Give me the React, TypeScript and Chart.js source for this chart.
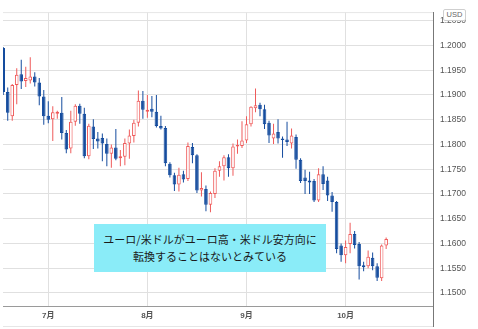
import React, { useEffect, useRef } from "react";
import { Chart, registerables } from "chart.js";
Chart.register(...registerables);

// Trading days (2021, MM-DD)
const dates = [
  "06-17","06-18","06-21","06-22","06-23","06-24","06-25","06-28","06-29","06-30",
  "07-01","07-02","07-05","07-06","07-07","07-08","07-09","07-12","07-13","07-14",
  "07-15","07-16","07-19","07-20","07-21","07-22","07-23","07-26","07-27","07-28",
  "07-29","07-30","08-02","08-03","08-04","08-05","08-06","08-09","08-10","08-11",
  "08-12","08-13","08-16","08-17","08-18","08-19","08-20","08-23","08-24","08-25",
  "08-26","08-27","08-30","08-31","09-01","09-02","09-03","09-06","09-07","09-08",
  "09-09","09-10","09-13","09-14","09-15","09-16","09-17","09-20","09-21","09-22",
  "09-23","09-24","09-27","09-28","09-29","09-30","10-01","10-04","10-05","10-06",
  "10-07","10-08","10-11","10-12","10-13","10-14",
];
const opens = [
  1.1995,1.1906,1.1857,1.1920,1.1942,1.1928,1.1929,1.1937,1.1925,1.1897,
  1.1858,1.1851,1.1862,1.1864,1.1823,1.1792,1.1846,1.1878,1.1862,1.1776,
  1.1836,1.1812,1.1813,1.1801,1.1781,1.1794,1.1772,1.1775,1.1802,1.1817,
  1.1844,1.1888,1.1866,1.1872,1.1866,1.1837,1.1833,1.1761,1.1738,1.1719,
  1.1740,1.1730,1.1795,1.1778,1.1707,1.1710,1.1678,1.1700,1.1747,1.1756,
  1.1774,1.1752,1.1796,1.1797,1.1808,1.1841,1.1873,1.1880,1.1871,1.1844,
  1.1812,1.1825,1.1812,1.1810,1.1802,1.1815,1.1769,1.1733,1.1727,1.1726,
  1.1687,1.1740,1.1727,1.1697,1.1684,1.1596,1.1576,1.1599,1.1619,1.1599,
  1.1556,1.1554,1.1571,1.1554,1.1530,1.1596,
];
const highs = [
  1.1997,1.1915,1.1922,1.1954,1.1971,1.1957,1.1976,1.1946,1.1934,1.1910,
  1.1887,1.1877,1.1868,1.1896,1.1829,1.1868,1.1881,1.1882,1.1874,1.1842,
  1.1851,1.1825,1.1822,1.1812,1.1800,1.1831,1.1789,1.1812,1.1830,1.1850,
  1.1909,1.1908,1.1900,1.1898,1.1900,1.1858,1.1837,1.1764,1.1743,1.1753,
  1.1747,1.1804,1.1803,1.1780,1.1744,1.1717,1.1705,1.1752,1.1766,1.1778,
  1.1780,1.1802,1.1810,1.1847,1.1857,1.1877,1.1913,1.1884,1.1880,1.1848,
  1.1842,1.1851,1.1816,1.1846,1.1832,1.1820,1.1772,1.1749,1.1745,1.1730,
  1.1752,1.1756,1.1735,1.1704,1.1686,1.1600,1.1606,1.1642,1.1625,1.1603,
  1.1563,1.1586,1.1582,1.1560,1.1598,1.1612,
];
const lows = [
  1.1900,1.1848,1.1848,1.1881,1.1912,1.1916,1.1923,1.1917,1.1879,1.1840,
  1.1843,1.1807,1.1852,1.1810,1.1782,1.1782,1.1838,1.1842,1.1772,1.1770,
  1.1791,1.1792,1.1766,1.1756,1.1753,1.1768,1.1756,1.1758,1.1771,1.1804,
  1.1836,1.1852,1.1854,1.1855,1.1834,1.1830,1.1756,1.1733,1.1706,1.1705,
  1.1723,1.1726,1.1762,1.1702,1.1695,1.1665,1.1663,1.1692,1.1735,1.1727,
  1.1735,1.1737,1.1781,1.1793,1.1803,1.1836,1.1865,1.1857,1.1831,1.1803,
  1.1801,1.1802,1.1773,1.1797,1.1792,1.1751,1.1722,1.1700,1.1700,1.1684,
  1.1684,1.1708,1.1686,1.1664,1.1580,1.1563,1.1560,1.1580,1.1590,1.1527,
  1.1544,1.1550,1.1546,1.1524,1.1524,1.1589,
];
const closes = [
  1.1906,1.1864,1.1920,1.1941,1.1927,1.1934,1.1937,1.1925,1.1897,1.1857,
  1.1850,1.1865,1.1866,1.1823,1.1790,1.1846,1.1878,1.1862,1.1776,1.1838,
  1.1811,1.1806,1.1802,1.1781,1.1794,1.1771,1.1776,1.1803,1.1818,1.1844,
  1.1888,1.1870,1.1870,1.1866,1.1837,1.1832,1.1762,1.1738,1.1719,1.1739,
  1.1729,1.1797,1.1778,1.1707,1.1712,1.1678,1.1702,1.1747,1.1756,1.1774,
  1.1752,1.1796,1.1799,1.1808,1.1841,1.1876,1.1879,1.1871,1.1841,1.1818,
  1.1822,1.1812,1.1809,1.1805,1.1818,1.1769,1.1726,1.1726,1.1723,1.1687,
  1.1740,1.1720,1.1697,1.1684,1.1589,1.1576,1.1593,1.1619,1.1597,1.1554,
  1.1552,1.1573,1.1554,1.1531,1.1596,1.1609,
];
const monthKeys = ["07", "08", "09", "10"];
const monthLabels = ["7月", "8月", "9月", "10月"];
const priceTicks = [1.15, 1.155, 1.16, 1.165, 1.17, 1.175, 1.18, 1.185, 1.19, 1.195, 1.2, 1.205];
const currencyLabel = "USD";
const annotationLines = ["ユーロ/米ドルがユーロ高・米ドル安方向に", "転換することはないとみている"];

const UP = "#ef5a5a";
const DOWN = "#154c9e";
const FONT = "'Liberation Sans', 'Noto Sans CJK JP', sans-serif";

export default function App() {
  const ref = useRef<HTMLCanvasElement | null>(null);

  useEffect(() => {
    const canvas = ref.current;
    if (!canvas) return;
    const up = dates.map((_, i) => closes[i] >= opens[i]);
    const monthIdx = monthKeys.map((m) => dates.findIndex((d) => d.startsWith(m)));

    const extras = {
      id: "extras",
      afterDraw(chart: any) {
        const { ctx, chartArea } = chart;
        ctx.save();
        ctx.strokeStyle = "#e6e6e6";
        ctx.lineWidth = 1;
        ctx.beginPath();
        ctx.moveTo(chartArea.left, chartArea.top + 0.5);
        ctx.lineTo(chartArea.right, chartArea.top + 0.5);
        ctx.moveTo(chartArea.left, 326.5);
        ctx.lineTo(chartArea.right, 326.5);
        ctx.stroke();
        ctx.strokeStyle = "#777";
        ctx.beginPath();
        ctx.moveTo(Math.round(chartArea.right) + 0.5, chartArea.bottom);
        ctx.lineTo(Math.round(chartArea.right) + 0.5, 327);
        ctx.stroke();
        ctx.restore();
      },
    };

    const chart = new Chart(canvas, {
      type: "bar",
      data: {
        datasets: [
          {
            label: "wick",
            data: dates.map((_, i) => ({ x: i, y: [lows[i], highs[i]] })) as any,
            backgroundColor: up.map((u) => (u ? UP : DOWN)),
            borderWidth: 0,
            barThickness: 1,
            grouped: false,
            inflateAmount: 0,
            order: 2,
          } as any,
          {
            label: "body",
            data: dates.map((_, i) => ({ x: i, y: [opens[i], closes[i]] })) as any,
            backgroundColor: up.map((u) => (u ? "#ffffff" : DOWN)),
            borderColor: up.map((u) => (u ? UP : DOWN)),
            borderWidth: 1,
            borderSkipped: false,
            barThickness: 3.6,
            grouped: false,
            inflateAmount: 0,
            order: 1,
          } as any,
        ],
      },
      options: {
        responsive: false,
        animation: false,
        events: [],
        layout: { padding: { left: 3, top: 3, right: 0, bottom: 0 } },
        plugins: { legend: { display: false }, tooltip: { enabled: false } },
        scales: {
          x: {
            type: "linear",
            min: -0.05,
            max: 95.4,
            offset: false,
            grid: { color: "#e0e0e0", drawTicks: false, offset: false },
            border: { color: "#9a9a9a", width: 1 },
            afterBuildTicks: (s: any) => {
              s.ticks = monthIdx.map((v) => ({ value: v }));
            },
            ticks: {
              autoSkip: false,
              maxRotation: 0,
              padding: 5,
              color: "#555",
              font: { size: 8, family: FONT, weight: "bold" },
              callback: (v: any) => monthLabels[monthIdx.indexOf(Number(v))] ?? "",
            },
            afterFit: (s: any) => {
              s.height = 23;
            },
          } as any,
          y: {
            position: "right",
            min: 1.14737,
            max: 1.20673,
            grid: { color: "#e0e0e0", drawTicks: false },
            border: { color: "#777", width: 1 },
            afterBuildTicks: (s: any) => {
              s.ticks = priceTicks.map((v) => ({ value: v }));
            },
            ticks: {
              padding: 7,
              color: "#555",
              font: { size: 8.5, family: FONT },
              callback: (v: any) => Number(v).toFixed(4),
            },
            afterFit: (s: any) => {
              s.width = 45;
            },
          } as any,
        },
      },
      plugins: [extras],
    });
    return () => chart.destroy();
  }, []);

  return (
    <div style={{ position: "fixed", left: 0, top: 0, width: 478, height: 329, background: "#fff" }}>
      <canvas ref={ref} width={478} height={329} style={{ display: "block" }} />
      <div
        style={{
          position: "absolute",
          left: 443,
          top: 9,
          width: 23,
          height: 12,
          boxSizing: "border-box",
          border: "1px solid #cfcfcf",
          borderRadius: 2,
          background: "#fff",
          color: "#666",
          fontFamily: FONT,
          fontSize: 7.5,
          display: "flex",
          alignItems: "center",
          justifyContent: "center",
          lineHeight: 1,
        }}
      >
        {currencyLabel}
      </div>
      <div
        style={{
          position: "absolute",
          left: 94,
          top: 224,
          width: 232,
          height: 48,
          background: "#8aecf8",
          color: "#1a1a1a",
          fontFamily: "'Noto Sans CJK JP', sans-serif",
          fontSize: 11,
          lineHeight: "16.7px",
          display: "flex",
          flexDirection: "column",
          alignItems: "center",
          justifyContent: "center",
          textAlign: "center",
          whiteSpace: "nowrap",
        }}
      >
        {annotationLines.map((t, i) => (
          <div key={i}>{t}</div>
        ))}
      </div>
    </div>
  );
}
